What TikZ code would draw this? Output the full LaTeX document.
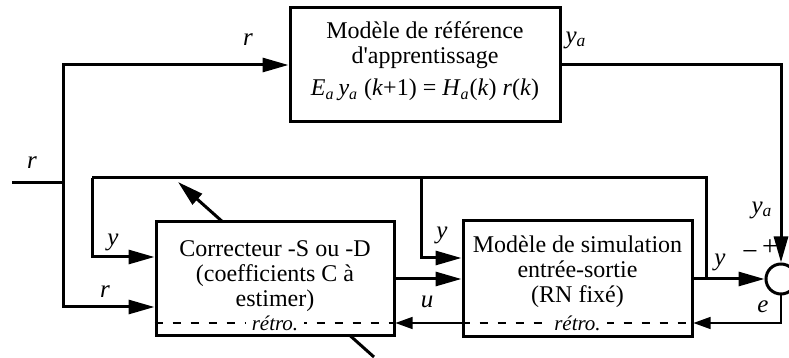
\documentclass[tikz,border=0pt]{standalone}
\usepackage{fontspec}
\setmainfont{Liberation Serif}
\usetikzlibrary{arrows.meta, positioning}
\newcommand{\subit}[2]{\textit{#1}\textsubscript{\textit{#2}}}
\tikzset{
  block/.style={rectangle, draw, fill=white, line width=1.5pt, inner sep=0pt},
  boxtext/.style={align=center, inner sep=0pt, font=\fontsize{12}{12.5}\selectfont},
  lbl/.style={inner sep=0pt, font=\fontsize{12.5}{12.5}\selectfont\itshape},
  sign/.style={inner sep=0pt, font=\fontsize{14}{14}\selectfont},
  arrow/.style={-{Triangle[length=13pt,width=7pt]}, line width=1.5pt},
  line/.style={line width=1.5pt},
  thinarrow/.style={-{Triangle[length=8.5pt,width=6pt]}, line width=0.6pt},
  retroline/.style={dash pattern=on 4pt off 5pt, line width=0.6pt},
  retrolabel/.style={fill=white, inner xsep=3pt, inner ysep=1.5pt, font=\fontsize{10.5}{10.5}\selectfont\itshape},
  sumnode/.style={circle, draw, fill=white, line width=1.5pt, minimum size=15pt, inner sep=0pt}
}

\begin{document}
\begin{tikzpicture}[x=0.5pt, y=-0.5pt]
  \clip (0,0) rectangle (789,358);

  % Adaptation arrow (under the correcteur)
  \coordinate (adfrom) at (374,357);
  \coordinate (adto) at (178,182);
  \draw[arrow] (adfrom) -- (adto);

  % Blocks
  \node[block, minimum width=135pt, minimum height=57pt] (ref) at (425,65) {};
  \node[boxtext, below=7.5pt of ref.north] (reftext) {Modèle de référence\\d\textquotesingle apprentissage\\[3.5pt]
    \subit{E}{a}\,\subit{y}{a} (\textit{k}+1) = \subit{H}{a}(\textit{k}) \textit{r}(\textit{k})};
  \node[block, minimum width=119pt, minimum height=57pt] (cor) at (275,279) {};
  \node[boxtext, below=10pt of cor.north] (cortext) {Correcteur -S ou -D\\(coefficients C à\\estimer)};
  \node[block, minimum width=114.5pt, minimum height=58pt] (sim) at (577.5,279) {};
  \node[boxtext, below=7.8pt of sim.north] (simtext) {Modèle de simulation\\entrée-sortie\\(RN fixé)};
  \node[sumnode] (sum) at (781,279) {};

  % Retro lines inside the blocks
  \draw[retroline] ([yshift=-22pt]cor.west) -- ([yshift=-22pt]cor.east)
    node[midway, retrolabel] (corretro) {rétro.};
  \draw[retroline] ([yshift=-22pt]sim.west) -- ([yshift=-22pt]sim.east)
    node[midway, retrolabel] (simretro) {rétro.};

  % Reference input r
  \coordinate (rin) at (12,183);
  \coordinate (rsplit) at (63,183);
  \draw[line] (rin) -- (rsplit);
  \draw[arrow] (rsplit) |- (ref.west);
  \draw[arrow] (rsplit) |- ([yshift=-14pt]cor.west);

  % Model output y_a
  \draw[arrow] (ref.east) -| (sum.north);

  % Plant output y and feedback
  \coordinate (ybr) at (706,279);
  \coordinate (ytop) at (92,178);
  \coordinate (ydown) at (421,178);
  \draw[arrow] (sim.east) -- (sum.west);
  \draw[line] (ybr) |- (ytop);
  \draw[arrow] (ytop) |- ([yshift=11pt]cor.west);
  \draw[arrow] (ydown) |- ([yshift=10.5pt]sim.west);

  % Command u
  \draw[arrow] (cor.east) -- (sim.west);

  % Error e back through the retro paths
  \draw[thinarrow] (sum.south) |- ([yshift=-22pt]sim.east);
  \draw[thinarrow] ([yshift=-22pt]sim.west) -- ([yshift=-22pt]cor.east);

  % Labels
  \node[lbl] (lr) at (248,40) {r};
  \node[lbl] (lrin) at (32,163) {r};
  \node[lbl] (lya) at (576,40) {\subit{y}{a}};
  \node[lbl] (lyc) at (113,242) {y};
  \node[lbl] (lrc) at (105,292) {r};
  \node[lbl] (lys) at (442,235) {y};
  \node[lbl] (lu) at (427,302) {u};
  \node[lbl] (lyo) at (720,262) {y};
  \node[lbl] (lyas) at (762,210) {\subit{y}{a}};
  \node[lbl] (le) at (763,307) {e};
  \node[sign] (plus) at (770,248) {+};
  \node[sign] (minus) at (750,256) {−};
\end{tikzpicture}
\end{document}
